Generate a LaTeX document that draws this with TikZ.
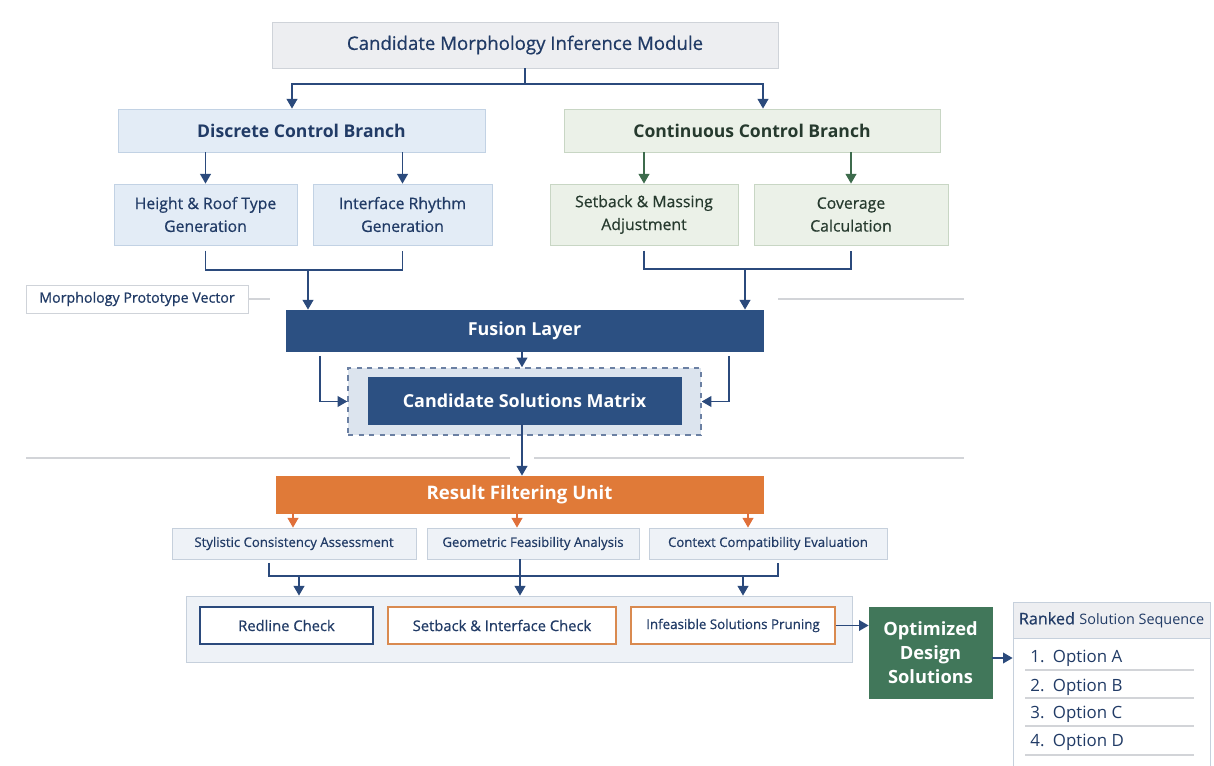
\documentclass[tikz,border=0pt]{standalone}
\usepackage{fontspec}
\setmainfont{Open Sans}
\newfontfamily\semib{Open Sans}[FakeBold=0.6]
\usetikzlibrary{arrows.meta}

\definecolor{navytxt}{HTML}{213B66}
\definecolor{navyline}{HTML}{2B4A7C}
\definecolor{navyfill}{HTML}{2C5082}
\definecolor{greytop}{HTML}{EDEEF1}
\definecolor{greyedge}{HTML}{CFD3D9}
\definecolor{bluefill}{HTML}{E3ECF6}
\definecolor{blueedge}{HTML}{C2D2E4}
\definecolor{greenfill}{HTML}{EBF1E8}
\definecolor{greenedge}{HTML}{C8D6C4}
\definecolor{greentxt}{HTML}{263A2E}
\definecolor{greenline}{HTML}{3D6B4C}
\definecolor{greendark}{HTML}{41775A}
\definecolor{orangefill}{HTML}{E07A38}
\definecolor{orangeline}{HTML}{E0703A}
\definecolor{orangeedge}{HTML}{D98A50}
\definecolor{paleblue}{HTML}{EEF2F7}
\definecolor{paleedge}{HTML}{C6D0DC}
\definecolor{matrixbg}{HTML}{DCE4EE}
\definecolor{sepline}{HTML}{D2D4D8}

\begin{document}
\begin{tikzpicture}[x=0.02cm,y=-0.02cm]
        \tikzstyle{box}=[draw,rectangle,inner sep=0pt,align=center]
        \tikzstyle{topbox}=[box,fill=greytop,draw=greyedge,text=navytxt,font=\semib\fontsize{10.6}{13}\selectfont]
        \tikzstyle{bluebox}=[box,fill=bluefill,draw=blueedge,text=navytxt]
        \tikzstyle{greenbox}=[box,fill=greenfill,draw=greenedge,text=greentxt]
        \tikzstyle{darkbox}=[box,fill=navyfill,draw=navyfill,text=white,font=\bfseries\fontsize{10.2}{12}\selectfont]
        \tikzstyle{head}=[font=\bfseries\fontsize{10}{12}\selectfont]
        \tikzstyle{sub}=[font=\semib\fontsize{9}{13}\selectfont]
        \tikzstyle{critbox}=[box,fill=paleblue,draw=paleedge,text=navytxt,font=\semib\fontsize{7.5}{9}\selectfont]
        \tikzstyle{checkbox}=[box,fill=white,text=navytxt,line width=0.8pt,font=\semib\fontsize{8.4}{10}\selectfont]
        \tikzstyle{item}=[anchor=west,inner sep=0pt,text=navytxt,font=\fontsize{9.6}{11}\selectfont]
        \tikzstyle{arr}=[-{Triangle[length=5.5pt,width=6pt]},line width=1.1pt,draw=navyline]
        \tikzstyle{line}=[line width=1.1pt,draw=navyline]
        \tikzstyle{sep}=[line width=0.8pt,draw=sepline]

        \useasboundingbox[fill=white] (0,0) rectangle (1214,766);

        % upper half: inference module and its two branches
        \node[topbox,minimum width=10.12cm,minimum height=0.92cm] (top) at (525,45) {Candidate Morphology Inference Module};
        \node[bluebox,head,minimum width=7.34cm,minimum height=0.86cm] (disc) at (301.5,130.5) {Discrete Control Branch};
        \node[greenbox,head,minimum width=7.52cm,minimum height=0.86cm] (cont) at (752,130.5) {Continuous Control Branch};
        \node[bluebox,sub,minimum width=3.66cm,minimum height=1.22cm] (height) at (205.5,214.5) {Height \& Roof Type\\Generation};
        \node[bluebox,sub,minimum width=3.58cm,minimum height=1.22cm] (rhythm) at (402.5,214.5) {Interface Rhythm\\Generation};
        \node[greenbox,sub,minimum width=3.76cm,minimum height=1.22cm] (setback) at (644,214.5) {Setback \& Massing\\Adjustment};
        \node[greenbox,sub,minimum width=3.88cm,minimum height=1.22cm] (coverage) at (851,214.5) {Coverage\\Calculation};

        \coordinate (split) at (525,84);
        \draw[line] (top.south) -- (split);
        \draw[arr] (split) -| (292,0 |- disc.north);
        \draw[arr] (split) -| (763,0 |- cont.north);
        \draw[arr] (height.north |- disc.south) -- (height.north);
        \draw[arr] (rhythm.north |- disc.south) -- (rhythm.north);
        \draw[arr,draw=greenline] (setback.north |- cont.south) -- (setback.north);
        \draw[arr,draw=greenline] (coverage.north |- cont.south) -- (coverage.north);

        \node[box,fill=white,draw=greyedge,text=navytxt,font=\semib\fontsize{8.1}{10}\selectfont,minimum width=4.44cm,minimum height=0.56cm] (proto) at (137,299) {Morphology Prototype Vector};
        \node[darkbox,minimum width=9.54cm,minimum height=0.82cm] (fusion) at (524.5,330.5) {Fusion Layer};

        \coordinate (joinL) at (308,270);
        \coordinate (joinR) at (745,269);
        \draw[line] ([yshift=-3pt]height.south) |- (joinL) -| ([yshift=-3pt]rhythm.south);
        \draw[line] ([yshift=-3pt]setback.south) |- (joinR) -| ([yshift=-3pt]coverage.south);
        \draw[arr] (joinL) -- (joinL |- fusion.north);
        \draw[arr] (joinR) -- (joinR |- fusion.north);
        \draw[sep] (proto.east) -- ++(22,0);
        \draw[sep] (778,299) -- (964,299);

        % candidate matrix
        \node[box,fill=matrixbg,draw=navyline!70,dashed,line width=0.8pt,minimum width=7.06cm,minimum height=1.34cm] (pool) at (524.5,401.5) {};
        \node[darkbox,minimum width=6.26cm,minimum height=0.94cm] (matrix) at (524.5,400.5) {Candidate Solutions Matrix};
        \coordinate (sideL) at (320,356);
        \coordinate (sideR) at (729,356);
        \draw[arr] (fusion.south -| 522,0) -- (pool.north -| 522,0);
        \draw[arr] (sideL) |- (pool.west);
        \draw[arr] (sideR) |- (pool.east);

        \draw[sep] (26,458) -- (510,458);
        \draw[sep] (534,458) -- (964,458);

        % lower half: filtering
        \node[box,fill=orangefill,draw=orangefill,text=white,font=\bfseries\fontsize{10.6}{12}\selectfont,minimum width=9.74cm,minimum height=0.74cm] (filter) at (519.5,494.5) {Result Filtering Unit};
        \draw[arr] (matrix.south -| 522,0) -- (filter.north -| 522,0);

        \node[critbox,minimum width=4.88cm,minimum height=0.62cm] (style) at (294,543.5) {Stylistic Consistency Assessment};
        \node[critbox,minimum width=4.24cm,minimum height=0.62cm] (geom) at (533,543.5) {Geometric Feasibility Analysis};
        \node[critbox,minimum width=4.76cm,minimum height=0.62cm] (context) at (768,543.5) {Context Compatibility Evaluation};
        \draw[arr,draw=orangeline] (293,0 |- filter.south) -- (293,0 |- style.north);
        \draw[arr,draw=orangeline] (517,0 |- filter.south) -- (517,0 |- geom.north);
        \draw[arr,draw=orangeline] (748,0 |- filter.south) -- (748,0 |- context.north);

        \node[box,fill=paleblue,draw=paleedge,minimum width=13.32cm,minimum height=1.32cm] (checks) at (519,629) {};
        \node[checkbox,draw=navyline,minimum width=3.46cm,minimum height=0.74cm] (redline) at (286.5,625.5) {Redline Check};
        \node[checkbox,draw=orangeedge,minimum width=4.56cm,minimum height=0.74cm] (setchk) at (502,625.5) {Setback \& Interface Check};
        \node[checkbox,draw=orangeedge,font=\semib\fontsize{7.6}{9}\selectfont,minimum width=4.08cm,minimum height=0.74cm] (prune) at (733,625.5) {Infeasible Solutions Pruning};

        \coordinate (bus) at (520,576);
        \draw[line] ([yshift=-2pt]style.south -| 269,0) |- (bus) -| ([yshift=-2pt]context.south -| 778,0);
        \draw[line] (geom.south -| bus) -- (bus);
        \draw[arr] (299,576) -- (299,0 |- checks.north);
        \draw[arr] (bus) -- (bus |- checks.north);
        \draw[arr] (743,576) -- (743,0 |- checks.north);

        % output
        \node[box,fill=greendark,draw=greendark,text=white,font=\bfseries\fontsize{10.4}{13.6}\selectfont,minimum width=2.46cm,minimum height=1.82cm] (optimized) at (930.5,652.5) {Optimized\\Design\\Solutions};
        \draw[arr] (prune.east) -- (prune.east -| optimized.west);

        \node[box,fill=white,draw=paleedge,minimum width=3.94cm,minimum height=3.76cm] (rankbox) at (1111.5,696) {};
        \node[box,fill=greytop,draw=paleedge,text=navytxt,minimum width=3.94cm,minimum height=0.72cm] (rankhead) at (1111.5,620) {{\semib\fontsize{9.2}{11}\selectfont Ranked} {\fontsize{8.2}{11}\selectfont Solution Sequence}};
        \node[item] (optA) at (1030,658) {1.\enspace Option A};
        \node[item] (optB) at (1030,687) {2.\enspace Option B};
        \node[item] (optC) at (1030,714) {3.\enspace Option C};
        \node[item] (optD) at (1030,742) {4.\enspace Option D};
        \foreach \y in {670,698,726,755}
            \draw[sep,line width=0.6pt] (1025,\y) -- (1194,\y);
        \draw[arr] (optimized.east |- optA) -- (optA -| rankbox.west);
\end{tikzpicture}
\end{document}
